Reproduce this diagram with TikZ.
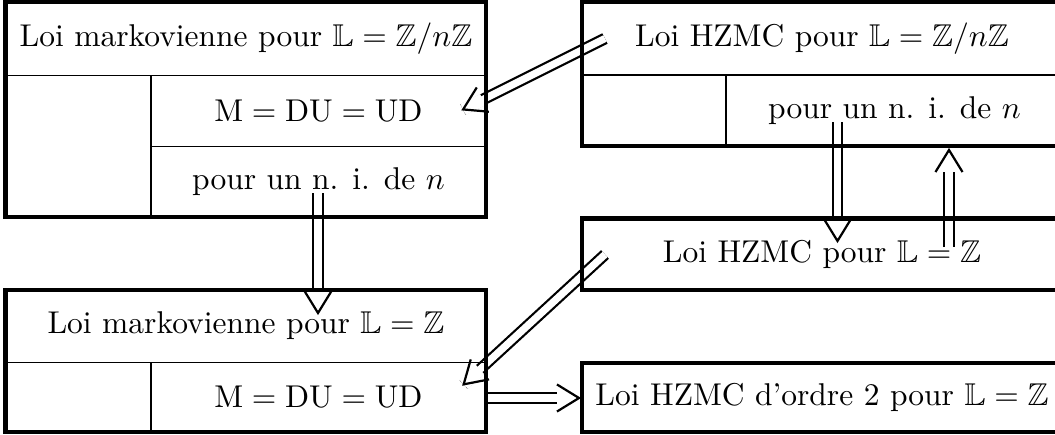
\documentclass[tikz,border=0pt]{standalone}
\usepackage{amssymb}
\usetikzlibrary{decorations.markings}
\newcommand{\implytip}{%
  \pgfsetfillcolor{white}%
  \pgfpathrectanglecorners{\pgfpoint{-7pt}{-2pt}}{\pgfpoint{0pt}{2pt}}%
  \pgfusepath{fill}%
  \pgfsetstrokecolor{black}\pgfsetlinewidth{0.7pt}%
  \pgfpathmoveto{\pgfpoint{-7pt}{4.3pt}}%
  \pgfpathlineto{\pgfpointorigin}%
  \pgfpathlineto{\pgfpoint{-7pt}{-4.3pt}}%
  \pgfusepath{stroke}}
\begin{document}
\begin{tikzpicture}[x=0.3175pt,y=-0.3175pt,
  frame/.style={line width=1.4pt},
  sep/.style={line width=0.4pt},
  lbl/.style={inner sep=0pt, anchor=center},
  imp/.style={double, double distance=2.3pt, line width=0.7pt,
    postaction={decorate, decoration={markings,
      mark=at position 1 with {\implytip}}}}]
\useasboundingbox (0,0) rectangle (1055,435);
% arrow end points
\coordinate (a1s) at (605,38.5);  \coordinate (a1e) at (463,109.5);
\coordinate (a2s) at (318,193);   \coordinate (a2e) at (318,313);
\coordinate (a3s) at (837.5,122); \coordinate (a3e) at (837.5,241);
\coordinate (a4s) at (949,247);   \coordinate (a4e) at (949,150);
\coordinate (a5s) at (605,254.5); \coordinate (a5e) at (463.5,384.5);
\coordinate (a6s) at (486,398);   \coordinate (a6e) at (579,398);
\draw[imp] (a1s) -- (a1e);
\draw[imp] (a2s) -- (a2e);
\draw[imp] (a3s) -- (a3e);
\draw[imp] (a4s) -- (a4e);
\draw[imp] (a5s) -- (a5e);
\draw[imp] (a6s) -- (a6e);
% left box 1
\draw[frame] (5.5,2) rectangle (486,217);
\draw[sep] (5.5,75.5) -- (486,75.5);
\draw[sep] (151,75.5) -- (151,217);
\draw[sep] (151,146.5) -- (486,146.5);
% left box 2
\draw[frame] (5.5,290) rectangle (486,432);
\draw[sep] (5.5,362.5) -- (486,362.5);
\draw[sep] (151,362.5) -- (151,432);
% right box 1
\draw[frame] (582,2) rectangle (1063,146);
\draw[sep] (582,75) -- (1063,75);
\draw[sep] (726,75) -- (726,146);
% right box 2
\draw[frame] (582,218.5) rectangle (1063,290);
% right box 3
\draw[frame] (582,363) rectangle (1063,432);
% texts
\node[lbl] (m1) at (246,38.5) {Loi markovienne pour $\mathbb{L}=\mathbb{Z}/n\mathbb{Z}$};
\node[lbl] (m1a) at (318.5,111) {$\mathrm{M}=\mathrm{DU}=\mathrm{UD}$};
\node[lbl] (m1b) at (318.5,182) {pour un n. i. de $n$};
\node[lbl] (m2) at (246,326) {Loi markovienne pour $\mathbb{L}=\mathbb{Z}$};
\node[lbl] (m2a) at (318.5,397) {$\mathrm{M}=\mathrm{DU}=\mathrm{UD}$};
\node[lbl] (h1) at (822,38.5) {Loi HZMC pour $\mathbb{L}=\mathbb{Z}/n\mathbb{Z}$};
\node[lbl] (h1a) at (894.5,111) {pour un n. i. de $n$};
\node[lbl] (h2) at (822,254) {Loi HZMC pour $\mathbb{L}=\mathbb{Z}$};
\node[lbl] (h3) at (822,397) {Loi HZMC d'ordre 2 pour $\mathbb{L}=\mathbb{Z}$};
\end{tikzpicture}
\end{document}
